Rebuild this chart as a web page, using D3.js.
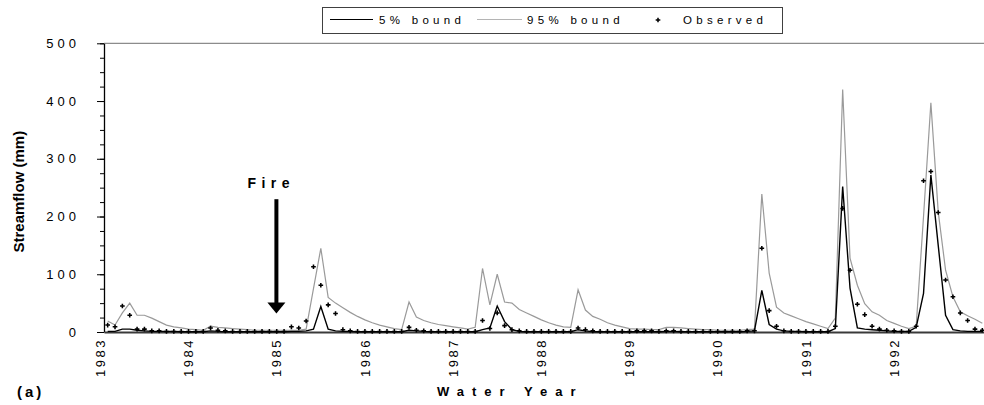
<!DOCTYPE html>
<html>
<head>
<meta charset="utf-8">
<script src="https://cdnjs.cloudflare.com/ajax/libs/d3/7.8.5/d3.min.js"></script>
<style>
    body { margin: 0; background: #ffffff; }
    svg { display: block; font-family: "Liberation Sans", Arial, sans-serif; }
</style>
</head>
<body>
<div id="plot"></div>
<script>
// water years on the x axis (each year = 12 monthly values, Oct..Sep)
var years = [1983, 1984, 1985, 1986, 1987, 1988, 1989, 1990, 1991, 1992]

// y axis tick labels (mm)
var yTicks = [0, 100, 200, 300, 400, 500]

// legend entries
var legendLabels = ["5% bound", "95% bound", "Observed"]

// 95% bound, monthly streamflow (mm)
var bound95 = [
    19, 12, 33, 50, 29, 29, 24, 18, 12, 9, 7, 5,
    4, 3, 10, 8, 7, 6, 5, 4, 3, 3, 3, 3,
    3, 3, 3, 5, 75, 145, 60, 50, 42, 34, 27, 21,
    16, 12, 9, 6, 4, 52, 26, 20, 16, 13, 11, 9,
    7, 5, 8, 110, 47, 100, 52, 50, 39, 33, 27, 21,
    16, 12, 9, 8, 73, 38, 27, 22, 16, 12, 9, 6,
    5, 5, 4, 4, 8, 8, 7, 6, 5, 4, 4, 3,
    3, 3, 3, 4, 5, 239, 102, 43, 33, 28, 23, 18,
    14, 10, 6, 24, 420, 128, 81, 49, 35, 29, 20, 15,
    10, 6, 10, 200, 397, 208, 107, 61, 35, 28, 22, 15
]

// 5% bound, monthly streamflow (mm)
var bound5 = [
    1, 1, 5, 5, 3, 2, 1, 1, 1, 1, 0.5, 0.5,
    0.5, 0.5, 2, 1, 0.5, 0.5, 0.5, 0.5, 0.5, 0.5, 0.5, 0.5,
    0.5, 1, 1, 2, 5, 44, 5, 2, 1, 1, 0.5, 0.5,
    0.5, 0.5, 0.5, 0.5, 0.5, 3, 2, 1, 0.5, 0.5, 0.5, 0.5,
    0.5, 0.5, 0.5, 4, 7, 45, 18, 4, 1, 0.5, 0.5, 0.5,
    0.5, 0.5, 0.5, 0.5, 4, 2, 0.5, 0.5, 0.5, 0.5, 0.5, 0.5,
    0.5, 0.5, 0.5, 0.5, 1, 1, 0.5, 0.5, 0.5, 0.5, 0.5, 0.5,
    0.5, 0.5, 0.5, 1, 2, 72, 13, 5, 2, 1, 1, 0.5,
    0.5, 0.5, 0.5, 6, 252, 76, 7, 5, 4, 3, 2, 1,
    1, 1, 8, 67, 272, 150, 29, 4, 2, 1, 1, 1
]

// observed monthly streamflow (mm)
var observed = [
    12, 9, 45, 29, 5, 5, 2, 2, 1, 1, 1, 1,
    1, 1, 7, 3, 2, 1, 1, 1, 1, 1, 1, 1,
    1, 9, 7, 19, 113, 81, 47, 32, 4, 2, 1, 1,
    1, 1, 1, 1, 1, 8, 3, 2, 1, 1, 1, 1,
    1, 1, 1, 20, 6, 33, 11, 4, 2, 1, 1, 1,
    1, 1, 1, 1, 7, 4, 2, 1, 1, 1, 1, 1,
    2, 2, 2, 1, 2, 2, 1, 1, 1, 1, 1, 1,
    1, 1, 1, 2, 2, 145, 37, 10, 2, 1, 1, 1,
    1, 1, 1, 10, 214, 107, 48, 30, 10, 5, 3, 2,
    1, 1, 10, 262, 278, 207, 90, 61, 33, 20, 5, 3
]

// image dimensions
var w = 984
var h = 405
// plot area edges (note: "top" is taken by window.top)
var plotLeft = 104
var plotRight = 986
var plotTop = 43.3
var plotBottom = 332

var svg = d3.select("#plot").append("svg")
    .attr("width", w)
    .attr("height", h)

// one point per month, centred in its slot
var months = d3.range(bound95.length)
var xScale = d3.scalePoint()
    .domain(months)
    .range([plotLeft, plotRight])
    .padding(0.5)

// year boundaries for the axis labels
var xYear = d3.scaleLinear()
    .domain([years[0], years[years.length - 1] + 1])
    .range([plotLeft, plotRight])

var yScale = d3.scaleLinear()
    .domain([0, 500])
    .range([plotBottom, plotTop])

// top border of the plot area
svg.append("line")
    .attr("x1", plotLeft).attr("x2", w)
    .attr("y1", yScale(500)).attr("y2", yScale(500))
    .attr("stroke", "#8c8c8c")
    .attr("stroke-width", 1.2)

// minor y ticks every 25
svg.append("g")
    .attr("transform", "translate(" + plotLeft + ",0)")
    .call(d3.axisLeft(yScale).tickValues(d3.range(0, 501, 25)).tickSize(4).tickFormat(""))
    .call(function(g) { g.select(".domain").remove() })
    .selectAll("line").attr("stroke", "#000")

// major y axis
var yAxis = svg.append("g")
    .attr("transform", "translate(" + plotLeft + ",0)")
    .call(d3.axisLeft(yScale).tickValues(yTicks).tickSize(7).tickSizeOuter(0).tickPadding(17))
yAxis.select(".domain").attr("stroke", "#000").attr("stroke-width", 1.3)
yAxis.selectAll("text")
    .attr("font-size", "13px")
    .attr("letter-spacing", "4px")
    .attr("fill", "#000")
    .attr("font-family", "'Liberation Sans', Arial, sans-serif")

// x axis with year labels rotated
var xAxis = svg.append("g")
    .attr("transform", "translate(0," + plotBottom + ")")
    .call(d3.axisBottom(xYear).tickValues(years).tickFormat(d3.format("d")).tickSize(0))
xAxis.select(".domain").attr("stroke", "#3a3a3a").attr("stroke-width", 2)
xAxis.selectAll("text")
    .attr("transform", "rotate(-90)")
    .attr("text-anchor", "end")
    .attr("x", -6)
    .attr("y", 0.5)
    .attr("dy", null)
    .attr("font-size", "13px")
    .attr("letter-spacing", "2.5px")
    .attr("fill", "#000")
    .attr("font-family", "'Liberation Sans', Arial, sans-serif")

// series lines
var line = function(vals) {
    return d3.line()
        .x(function(d, i) { return xScale(i) })
        .y(function(d) { return yScale(d) })(vals)
}

svg.append("path")
    .attr("d", line(bound95))
    .attr("fill", "none")
    .attr("stroke", "#9a9a9a")
    .attr("stroke-width", 1.2)

svg.append("path")
    .attr("d", line(bound5))
    .attr("fill", "none")
    .attr("stroke", "#000")
    .attr("stroke-width", 1.4)

// observed markers
var cross = d3.symbol().type(d3.symbolCross).size(12)
svg.selectAll(".obs")
    .data(observed)
    .enter()
    .append("path")
    .attr("class", "obs")
    .attr("d", cross)
    .attr("transform", function(d, i) { return "translate(" + xScale(i) + "," + yScale(d) + ")" })
    .attr("fill", "#000")

// axis titles
svg.append("text")
    .text("Streamflow (mm)")
    .attr("text-anchor", "middle")
    .attr("transform", "translate(24," + ((plotTop + plotBottom) / 2 + 4) + ") rotate(-90)")
    .attr("font-size", "15px")
    .attr("font-weight", "bold")

svg.append("text")
    .text("Water Year")
    .attr("x", 437)
    .attr("y", 396)
    .attr("font-size", "13px")
    .attr("font-weight", "bold")
    .attr("letter-spacing", "8px")

svg.append("text")
    .text("(a)")
    .attr("x", 17)
    .attr("y", 397)
    .attr("font-size", "15px")
    .attr("font-weight", "bold")
    .attr("letter-spacing", "3px")

// fire annotation
var fireX = xYear(1985) - 4
svg.append("text")
    .text("Fire")
    .attr("x", fireX - 29)
    .attr("y", yScale(250))
    .attr("font-size", "14px")
    .attr("font-weight", "bold")
    .attr("letter-spacing", "5.5px")

svg.append("line")
    .attr("x1", fireX).attr("x2", fireX)
    .attr("y1", yScale(230)).attr("y2", yScale(50))
    .attr("stroke", "#000")
    .attr("stroke-width", 4)

svg.append("path")
    .attr("d", "M" + (fireX - 9) + "," + yScale(51) +
        "L" + (fireX + 9) + "," + yScale(51) +
        "L" + fireX + "," + yScale(32) + "Z")
    .attr("fill", "#000")

// legend box
var legend = svg.append("g")
legend.append("rect")
    .attr("x", 322.5).attr("y", 7.5)
    .attr("width", 460).attr("height", 26)
    .attr("fill", "#fff")
    .attr("stroke", "#404040")
    .attr("stroke-width", 1)

legend.append("line")
    .attr("x1", 330).attr("x2", 373).attr("y1", 19.5).attr("y2", 19.5)
    .attr("stroke", "#000").attr("stroke-width", 1.2)
legend.append("line")
    .attr("x1", 477).attr("x2", 522).attr("y1", 19.5).attr("y2", 19.5)
    .attr("stroke", "#b4b4b4").attr("stroke-width", 1.2)
legend.append("path")
    .attr("d", cross)
    .attr("transform", "translate(658,20)")
    .attr("fill", "#000")

var legendX = [379, 527, 683]
legend.selectAll(".ltext")
    .data(legendLabels)
    .enter()
    .append("text")
    .attr("class", "ltext")
    .attr("x", function(d, i) { return legendX[i] })
    .attr("y", 24)
    .text(function(d) { return d })
    .attr("font-size", "11.5px")
    .attr("letter-spacing", "4.3px")
</script>
</body>
</html>
